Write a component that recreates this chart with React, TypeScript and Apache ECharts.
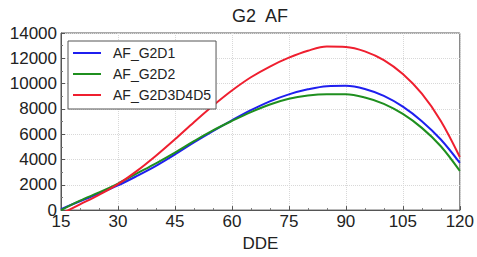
import React, { useEffect, useRef } from "react";
import * as echarts from "echarts";

const dde = [15, 20, 25, 30, 35, 40, 45, 50, 55, 60, 65, 70, 75, 80, 85, 90, 95, 100, 105, 110, 115, 120];
const afG2D1 = [80, 700, 1300, 1950, 2700, 3500, 4400, 5350, 6250, 7100, 7900, 8600, 9150, 9550, 9800, 9830, 9580, 9030, 8180, 7030, 5580, 3730];
const afG2D2 = [0, 750, 1400, 2100, 2900, 3700, 4550, 5450, 6300, 7050, 7750, 8350, 8800, 9050, 9150, 9150, 8900, 8400, 7600, 6500, 5050, 3100];
const afG2D3D4D5 = [-300, 450, 1200, 2050, 3100, 4300, 5600, 6950, 8250, 9450, 10500, 11350, 12050, 12600, 12930, 12900, 12550, 11850, 10750, 9200, 7050, 4200];
const seriesNames = ["AF_G2D1", "AF_G2D2", "AF_G2D3D4D5"];
const seriesColors = ["#1f1fef", "#1f8f1f", "#ef1f2f"];

export default function App() {
  const ref = useRef<HTMLDivElement>(null);
  useEffect(() => {
    if (!ref.current) return;
    const chart = echarts.init(ref.current, null, { renderer: "svg" });
    const zip = (ys: number[]) => dde.map((x, i) => [x, ys[i]]);
    const all = [afG2D1, afG2D2, afG2D3D4D5];
    const font = "Liberation Sans";
    chart.setOption({
      animation: false,
      backgroundColor: "#ffffff",
      title: {
        text: "G2  AF",
        left: 255,
        top: 2,
        textAlign: "center",
        textStyle: { fontFamily: font, fontSize: 18, fontWeight: "normal", color: "#222" },
      },
      legend: {
        orient: "vertical",
        left: 68,
        top: 41,
        icon: "path://M0,0H28V2H0Z",
        itemWidth: 28,
        itemHeight: 14,
        itemGap: 5,
        padding: [4, 5, 6, 5],
        backgroundColor: "#ffffff",
        borderColor: "#555",
        borderWidth: 1,
        borderRadius: 0,
        textStyle: { fontFamily: font, fontSize: 14, lineHeight: 16, color: "#222", padding: [0, 0, 0, 7] },
        data: seriesNames,
      },
      grid: {
        left: 61,
        right: 15,
        top: 33,
        bottom: 40,
        show: true,
        borderColor: "#555",
        borderWidth: 1,
        containLabel: false,
      },
      xAxis: {
        type: "value",
        min: 15,
        max: 120,
        interval: 15,
        name: "DDE",
        nameLocation: "middle",
        nameGap: 19,
        nameTextStyle: { fontFamily: font, fontSize: 17, color: "#222" },
        axisLine: { show: true, lineStyle: { color: "#555" } },
        axisTick: { show: true, inside: true, length: 4, lineStyle: { color: "#555" } },
        minorTick: { show: true, splitNumber: 3, length: 2, lineStyle: { color: "#777" } },
        axisLabel: { fontFamily: font, fontSize: 17, color: "#222", margin: 3 },
        splitLine: { show: true, lineStyle: { color: "#d8d8d8", type: "dotted" } },
      },
      yAxis: {
        type: "value",
        min: 0,
        max: 14000,
        interval: 2000,
        axisLine: { show: true, lineStyle: { color: "#555" } },
        axisTick: { show: true, inside: true, length: 4, lineStyle: { color: "#555" } },
        minorTick: { show: true, splitNumber: 2, length: 2, lineStyle: { color: "#777" } },
        axisLabel: { fontFamily: font, fontSize: 17, color: "#222", margin: 4, formatter: (v: number) => String(v) },
        splitLine: { show: true, lineStyle: { color: "#d8d8d8", type: "dotted" } },
      },
      series: seriesNames.map((name, i) => ({
        name,
        type: "line",
        data: zip(all[i]),
        smooth: 0.35,
        symbol: "none",
        clip: true,
        color: seriesColors[i],
        lineStyle: { width: 2, color: seriesColors[i] },
      })),
    });
    return () => chart.dispose();
  }, []);
  return <div ref={ref} style={{ width: 477, height: 257, position: "absolute", left: 0, top: 0 }} />;
}
